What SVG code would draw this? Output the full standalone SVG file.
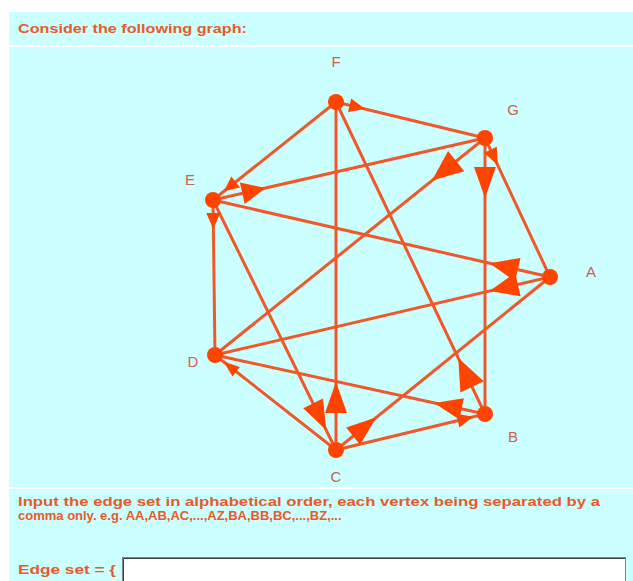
<svg xmlns="http://www.w3.org/2000/svg" width="633" height="581" viewBox="0 0 633 581">
<style>
.bg{fill:#ccffff}
.t{font-family:"Liberation Sans","DejaVu Sans",sans-serif;font-weight:bold;font-size:13px;fill:#e85a28}
.lbl{font-family:"Liberation Sans","DejaVu Sans",sans-serif;font-size:15px;fill:#d0604a;text-anchor:middle}
.e{stroke:#f0582a;stroke-width:3;fill:none;stroke-linecap:round}
.ah{fill:#ff4400}
.n{fill:#ff4400}
</style>
<rect width="633" height="581" fill="#ffffff"/>
<rect class="bg" x="9" y="12" width="624" height="33"/>
<rect class="bg" x="9" y="47" width="624" height="440"/>
<rect class="bg" x="9" y="489" width="624" height="92"/>
<text class="t" x="18" y="33" textLength="229" lengthAdjust="spacingAndGlyphs">Consider the following graph:</text>

<g id="connectors">
<line class="e" x1="336" y1="102" x2="485" y2="138"/>
<line class="e" x1="336" y1="102" x2="213" y2="200"/>
<line class="e" x1="336" y1="102" x2="336" y2="450"/>
<line class="e" x1="336" y1="102" x2="485" y2="414"/>
<line class="e" x1="485" y1="138" x2="213" y2="200"/>
<line class="e" x1="485" y1="138" x2="215" y2="355"/>
<line class="e" x1="485" y1="138" x2="485" y2="414"/>
<line class="e" x1="485" y1="138" x2="550" y2="277"/>
<line class="e" x1="213" y1="200" x2="550" y2="277"/>
<line class="e" x1="213" y1="200" x2="215" y2="355"/>
<line class="e" x1="213" y1="200" x2="336" y2="450"/>
<line class="e" x1="215" y1="355" x2="550" y2="277"/>
<line class="e" x1="215" y1="355" x2="485" y2="414"/>
<line class="e" x1="215" y1="355" x2="336" y2="450"/>
<line class="e" x1="336" y1="450" x2="550" y2="277"/>
<line class="e" x1="336" y1="450" x2="485" y2="414"/>
<polygon class="ah" points="365.2,109.1 348.0,112.1 351.2,98.5"/>
<polygon class="ah" points="265.7,188.0 244.7,204.0 239.9,182.6"/>
<polygon class="ah" points="224.0,191.3 231.3,176.4 240.1,187.4"/>
<polygon class="ah" points="213.4,229 206.2,213 220.2,213"/>
<polygon class="ah" points="432.0,180.6 448.1,151.1 464.3,171.3"/>
<polygon class="ah" points="485,198 474,167 496,167"/>
<polygon class="ah" points="497.7,165.2 484.2,152.8 496.8,146.8"/>
<polygon class="ah" points="489.5,263.2 520.5,257.9 515.1,281.3"/>
<polygon class="ah" points="489.6,291.1 515.2,272.8 520.6,296.2"/>
<polygon class="ah" points="458.3,358.1 483.8,381.3 460.4,392.5"/>
<polygon class="ah" points="434.2,402.9 463.9,398.2 459.3,419.6"/>
<polygon class="ah" points="473.3,416.8 459.4,427.4 456.2,413.8"/>
<polygon class="ah" points="336,382 325,413 347,413"/>
<polygon class="ah" points="326.3,430.3 303.2,408.3 323.0,398.5"/>
<polygon class="ah" points="376.5,417.3 360.0,444.8 346.2,427.6"/>
<polygon class="ah" points="223.7,361.8 239.9,367.0 232.5,376.4"/>
</g>

<g id="node-F"><circle class="n" cx="336" cy="102" r="8"/><text class="lbl" x="336" y="67">F</text></g>
<g id="node-G"><circle class="n" cx="485" cy="138" r="8"/><text class="lbl" x="513" y="115">G</text></g>
<g id="node-E"><circle class="n" cx="213" cy="200" r="8"/><text class="lbl" x="190" y="185">E</text></g>
<g id="node-A"><circle class="n" cx="550" cy="277" r="8"/><text class="lbl" x="591" y="277">A</text></g>
<g id="node-D"><circle class="n" cx="215" cy="355" r="8"/><text class="lbl" x="193" y="367">D</text></g>
<g id="node-B"><circle class="n" cx="485" cy="414" r="8"/><text class="lbl" x="513" y="442">B</text></g>
<g id="node-C"><circle class="n" cx="336" cy="450" r="8"/><text class="lbl" x="336" y="482">C</text></g>

<text class="t" x="18" y="506" textLength="582" lengthAdjust="spacingAndGlyphs">Input the edge set in alphabetical order, each vertex being separated by a</text>
<text class="t" x="18" y="520">comma only. e.g. AA,AB,AC,...,AZ,BA,BB,BC,...,BZ,...</text>
<text class="t" x="18" y="574" textLength="98" lengthAdjust="spacingAndGlyphs">Edge set = {</text>
<rect x="122.5" y="557.5" width="503" height="30" fill="#ffffff" stroke="#808080" stroke-width="1"/>
<path d="M123.5 586 V558.5 H625" stroke="#404040" stroke-width="1" fill="none"/>
</svg>
